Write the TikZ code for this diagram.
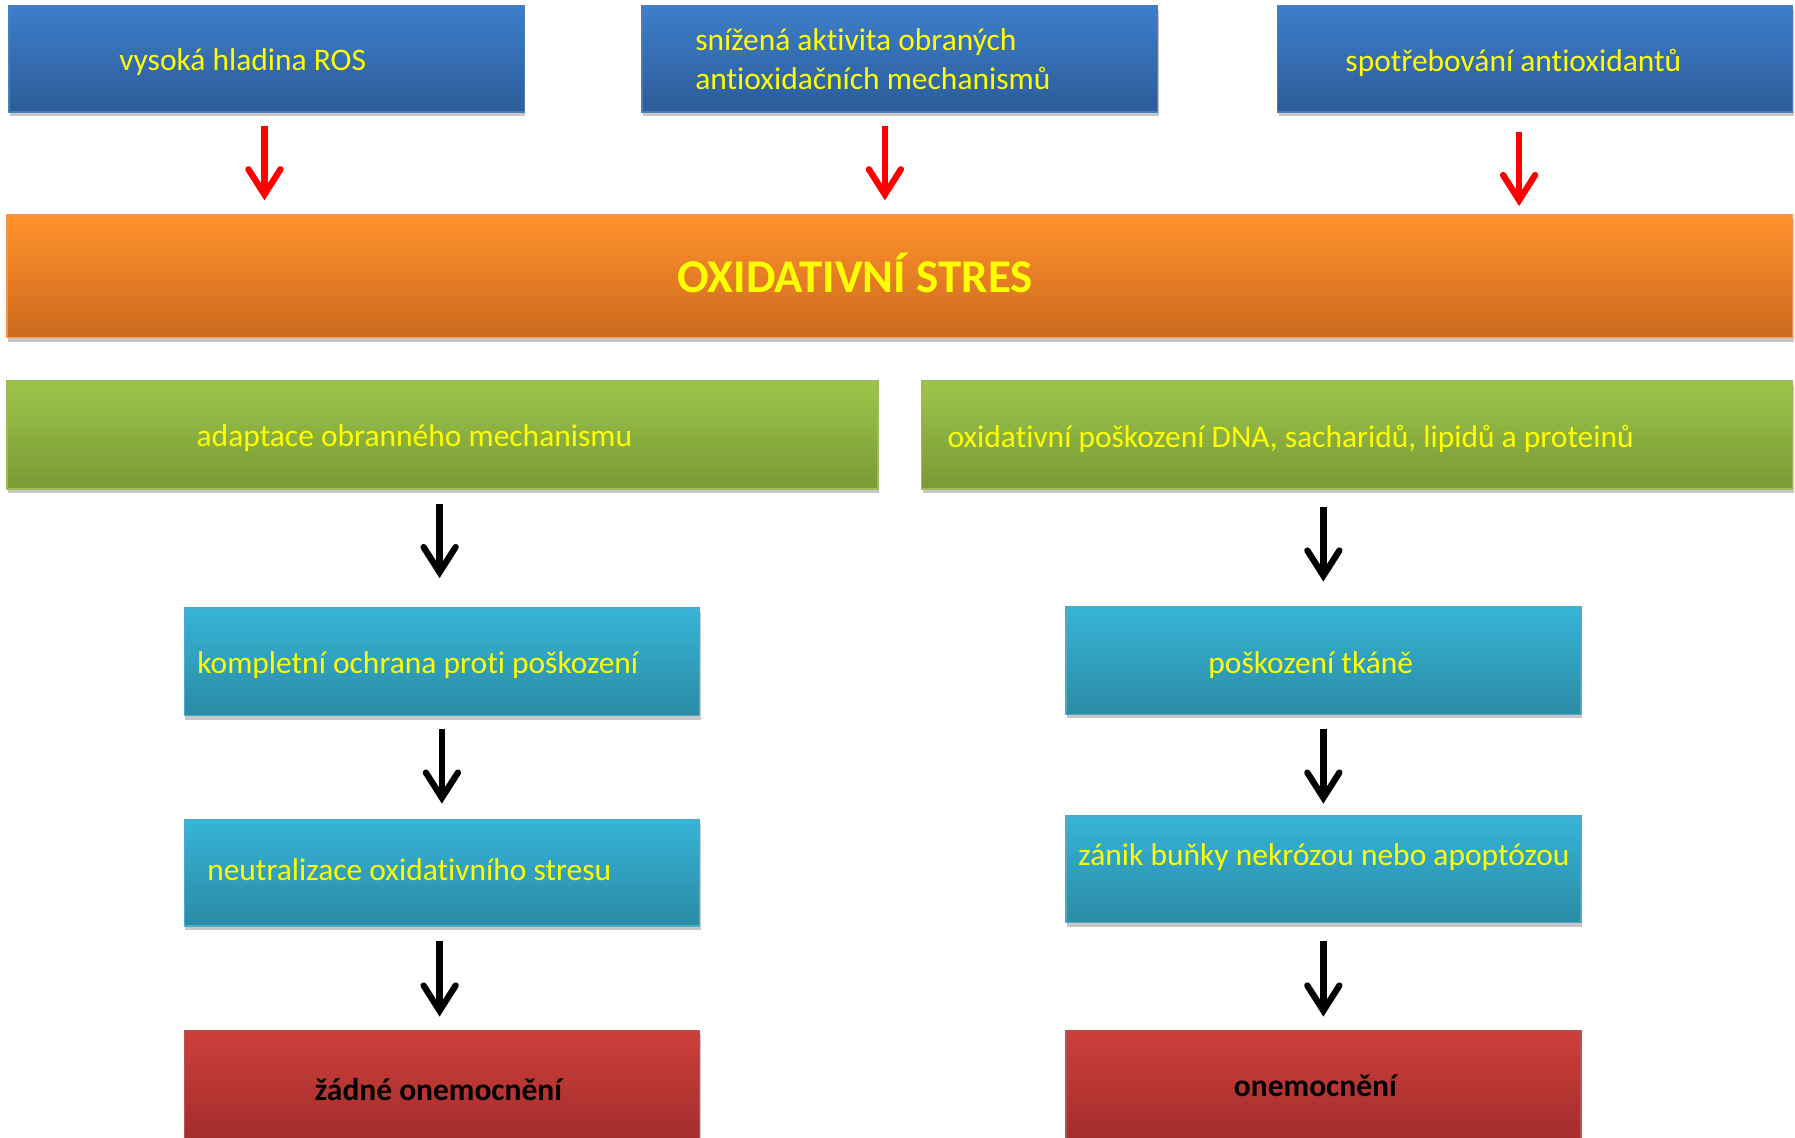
\documentclass[tikz,border=0pt]{standalone}
\usepackage{fontspec}
\setmainfont{Carlito}[Ligatures=NoCommon]
\usetikzlibrary{arrows.meta,shadows,calc}
\definecolor{blueTop}{RGB}{61,126,203}
\definecolor{blueBot}{RGB}{44,92,152}
\definecolor{blueLine}{RGB}{74,126,187}
\definecolor{orTop}{RGB}{255,145,44}
\definecolor{orBot}{RGB}{205,106,30}
\definecolor{orLine}{RGB}{247,150,70}
\definecolor{grTop}{RGB}{157,197,74}
\definecolor{grBot}{RGB}{120,154,54}
\definecolor{grLine}{RGB}{155,187,89}
\definecolor{cyTop}{RGB}{55,180,215}
\definecolor{cyBot}{RGB}{42,139,164}
\definecolor{cyLine}{RGB}{75,172,198}
\definecolor{rdTop}{RGB}{205,63,60}
\definecolor{rdBot}{RGB}{162,45,43}
\definecolor{rdLine}{RGB}{192,80,77}
\definecolor{txtYellow}{RGB}{255,255,0}
\begin{document}
\begin{tikzpicture}[x=1pt,y=-1pt,
  box/.style={rectangle, inner sep=0pt, outer sep=0pt, line width=1.3pt,
    minimum width=450pt, minimum height=93pt,
    drop shadow={shadow xshift=1pt, shadow yshift=-3.5pt, opacity=0.22, fill=black}},
  bluebox/.style={box, draw=blueLine, top color=blueTop, bottom color=blueBot},
  orbox/.style={box, draw=orLine, top color=orTop, bottom color=orBot},
  grbox/.style={box, draw=grLine, top color=grTop, bottom color=grBot},
  cybox/.style={box, draw=cyLine, top color=cyTop, bottom color=cyBot},
  rdbox/.style={box, draw=rdLine, top color=rdTop, bottom color=rdBot},
  txt/.style={text=txtYellow, inner sep=0pt, font=\fontsize{27.5}{34}\selectfont},
  txtbig/.style={text=txtYellow, inner sep=0pt, font=\bfseries\fontsize{41}{49}\selectfont},
  txtdark/.style={text=black, inner sep=0pt, font=\bfseries\fontsize{27.5}{34}\selectfont},
  redarr/.style={draw=red, line width=5.5pt,
    -{Straight Barb[length=22pt,width=28pt,line cap=round,line join=miter]}},
  blkarr/.style={draw=black, line width=5.5pt,
    -{Straight Barb[length=22pt,width=28pt,line cap=round,line join=miter]}}
]
\useasboundingbox (0,0) rectangle (1568,994);
\clip (0,0) rectangle (1568,994);
\fill[white] (0,0) rectangle (1568,994);

% top row
\node[bluebox, label={[txt, xshift=-21pt, yshift=-3pt]center:vysoká hladina ROS}] (b1) at (233,51.5) {};
\node[bluebox, label={[txt, xshift=-23.5pt, yshift=-3pt]center:{\begin{tabular}{@{}l@{}}snížená aktivita obraných\\antioxidačních mechanismů\end{tabular}}}] (b2) at (786,51.5) {};
\node[bluebox, label={[txt, xshift=-19pt, yshift=-3pt]center:spotřebování antioxidantů}] (b3) at (1341,51.5) {};

% oxidative stress bar
\node[orbox, minimum width=1560pt, minimum height=107pt,
  label={[txtbig, xshift=-39pt, yshift=3pt]center:OXIDATIVNÍ STRES}] (ox) at (786,241.5) {};

% green row
\node[grbox, minimum width=761pt, minimum height=94pt,
  label={[txt, xshift=-24.5pt, yshift=-3pt]center:adaptace obranného mechanismu}] (g1) at (386.5,380) {};
\node[grbox, minimum width=761pt, minimum height=94pt,
  label={[txt, xshift=-58pt, yshift=-3pt]center:{oxidativní poškození DNA, sacharidů, lipidů a proteinů}}] (g2) at (1185.5,380) {};

% cyan boxes
\node[cybox, minimum height=94pt,
  label={[txt, xshift=-21pt, yshift=-3pt]center:kompletní ochrana proti poškození}] (c1) at (386,578) {};
\node[cybox, minimum height=94pt,
  label={[txt, xshift=-11pt, yshift=-4pt]center:poškození tkáně}] (c2) at (1156,577) {};
\node[cybox,
  label={[txt, xshift=-28.5pt, yshift=2.5pt]center:neutralizace oxidativního stresu}] (c3) at (386,762.5) {};
\node[cybox,
  label={[txt, xshift=0.5pt, yshift=10.5pt]center:zánik buňky nekrózou nebo apoptózou}] (c4) at (1156,759.5) {};

% red boxes
\node[rdbox, minimum height=98pt,
  label={[txtdark, xshift=-3pt, yshift=-3pt]center:žádné onemocnění}] (r1) at (386,949) {};
\node[rdbox, minimum height=98pt,
  label={[txtdark, xshift=-7pt, yshift=1pt]center:onemocnění}] (r2) at (1156,949) {};

% red arrows
\coordinate (a1) at ([xshift=-2pt]b1.south);
\coordinate (a2) at ([xshift=-13pt]b2.south);
\coordinate (a3) at ([xshift=-14pt]b3.south);
\draw[redarr, shorten <=12pt, shorten >=13pt] (a1) -- (a1 |- ox.north);
\draw[redarr, shorten <=12pt, shorten >=13pt] (a2) -- (a2 |- ox.north);
\draw[redarr, shorten <=17pt, shorten >=8pt] (a3) -- (a3 |- ox.north);

% black arrows
\coordinate (k1) at ([xshift=-2pt]c1.north);
\coordinate (k5) at ([xshift=-2pt]r1.north);
\draw[blkarr, shorten <=13pt, shorten >=26pt] (k1 |- g1.south) -- (k1);
\draw[blkarr, shorten <=16pt, shorten >=22pt] (c2.north |- g2.south) -- (c2.north);
\draw[blkarr, shorten <=12pt, shorten >=14pt] (c1.south) -- (c3.north);
\draw[blkarr, shorten <=13pt, shorten >=11pt] (c2.south) -- (c4.north);
\draw[blkarr, shorten <=13pt, shorten >=12pt] (k5 |- c3.south) -- (k5);
\draw[blkarr, shorten <=16pt, shorten >=12pt] (c4.south) -- (r2.north);
\end{tikzpicture}
\end{document}
